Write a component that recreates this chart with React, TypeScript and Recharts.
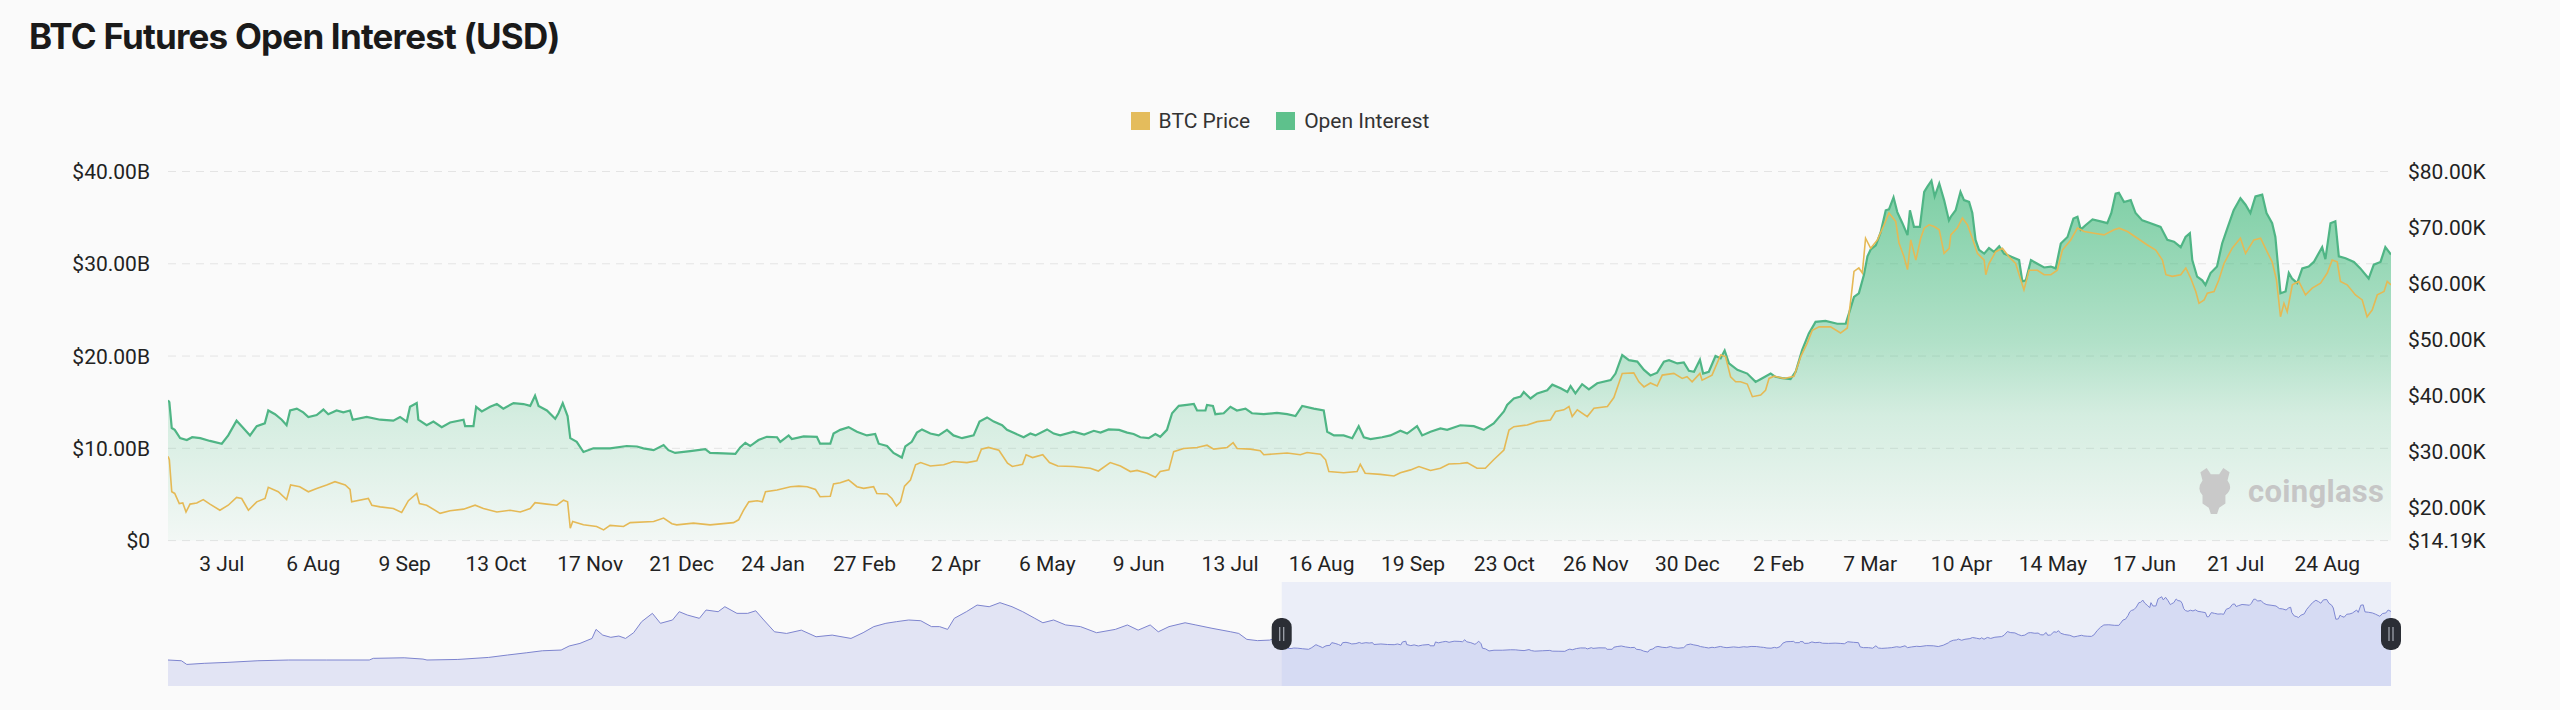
import React from 'react';
import {
  ComposedChart, AreaChart, Area, Line, XAxis, YAxis, CartesianGrid, Legend, ReferenceArea,
} from 'recharts';

// day offsets are counted from 13 Jun 2022 (left edge of the zoomed window)
const START = Date.UTC(2022, 5, 13);
const DAY = 86400000;
const MONTHS = ['Jan', 'Feb', 'Mar', 'Apr', 'May', 'Jun', 'Jul', 'Aug', 'Sep', 'Oct', 'Nov', 'Dec'];

const tickDates = [
  '2022-07-03', '2022-08-06', '2022-09-09', '2022-10-13', '2022-11-17', '2022-12-21',
  '2023-01-24', '2023-02-27', '2023-04-02', '2023-05-06', '2023-06-09', '2023-07-13',
  '2023-08-16', '2023-09-19', '2023-10-23', '2023-11-26', '2023-12-30', '2024-02-02',
  '2024-03-07', '2024-04-10', '2024-05-14', '2024-06-17', '2024-07-21', '2024-08-24',
];

const leftTicks = [0, 10, 20, 30, 40];
const rightTicks = [14.19, 20, 30, 40, 50, 60, 70, 80];

// open interest, [day, $B]
const openInterest: [number, number][] = [
  [0, 15.2], [0.5, 15.0], [1.4, 12.2], [2.5, 12.0], [4.5, 11.1], [7, 10.9], [9, 11.2], [12, 11.1], [15.6, 10.8],
  [20, 10.5], [22.4, 11.4], [25.5, 13.0], [27.4, 12.4], [30.5, 11.4], [33, 12.4], [36, 12.7], [37.3, 14.1],
  [39.8, 13.7], [42.3, 13.1], [44.1, 12.5], [45.4, 14.1], [47.9, 14.3], [50.3, 13.9], [52.2, 13.4], [55.3, 13.6],
  [57.8, 14.2], [59.6, 13.7], [62.7, 14.1], [65.2, 13.9], [67.7, 14.1], [68.7, 13.1], [73.9, 13.4], [78.9, 13.1],
  [83.8, 13.0], [86.3, 13.4], [88.8, 12.9], [90, 14.5], [92.5, 14.9], [93.1, 13.1], [96.2, 12.5], [98.7, 12.9],
  [101.8, 12.3], [104.9, 12.8], [109.9, 13.1], [110.5, 12.4], [113.6, 12.4], [114.6, 14.5], [116.7, 14.0],
  [119.8, 14.5], [122.3, 14.8], [124.7, 14.3], [128.5, 14.9], [132.2, 14.8], [134.7, 14.6], [136.5, 15.7],
  [137.8, 14.6], [140.9, 14.1], [144, 13.2], [145.2, 13.8], [146.8, 14.9], [148.6, 13.5], [149.6, 11.1],
  [152, 10.7], [154.5, 9.6], [158.2, 10.0], [164.4, 10.0], [170.6, 10.25], [174.4, 10.2], [176.8, 10.0],
  [180.6, 9.8], [184.3, 10.35], [186.1, 9.8], [188.6, 9.5], [194.2, 9.7], [199.8, 9.9], [201.6, 9.5],
  [206.6, 9.45], [211, 9.4], [212.8, 10.1], [214.7, 10.6], [216.5, 10.25], [219.6, 10.9], [222.7, 11.25],
  [226.5, 11.2], [227.7, 10.7], [230.8, 11.4], [232, 11.0], [236.4, 11.3], [241.3, 11.25], [242.5, 10.5],
  [246.3, 10.5], [247.5, 11.6], [250, 12.0], [253.1, 12.3], [256.2, 11.8], [259.9, 11.4], [263, 11.55],
  [264.3, 10.5], [267.4, 10.25], [269.8, 9.5], [272.9, 9.0], [274.2, 10.2], [276.6, 10.7], [278.5, 11.7],
  [280.4, 12.05], [283.5, 11.6], [286.6, 11.4], [289.7, 12.0], [292.1, 11.4], [295.3, 11.1], [299.6, 11.4],
  [301.8, 12.9], [304.6, 13.35], [307.1, 12.9], [310.2, 12.5], [312, 12.0], [315.1, 11.6], [318.2, 11.2],
  [320.7, 11.6], [322.6, 11.4], [326.9, 12.05], [329.4, 11.6], [331.8, 11.4], [336.8, 11.8], [340.7, 11.5],
  [344.3, 11.9], [346.8, 11.7], [349.8, 12.05], [353.7, 12.0], [356.7, 11.7], [359.1, 11.55], [361.6, 11.2],
  [364.7, 11.1], [367.2, 11.55], [369, 11.25], [371.5, 12.0], [373.4, 13.8], [375.9, 14.6], [378.9, 14.7],
  [381.5, 14.8], [382.7, 14.1], [385.8, 14.1], [386.4, 14.7], [388.6, 14.6], [389.5, 13.7], [392.6, 13.8],
  [395.1, 14.5], [397.5, 14.1], [400.7, 14.3], [403.1, 13.8], [407.5, 13.7], [412.4, 13.85], [416.2, 13.7],
  [419.3, 13.5], [421.8, 14.6], [426.1, 14.3], [429.8, 14.1], [431.1, 11.8], [433.6, 11.4], [437.2, 11.4],
  [440.4, 11.1], [442.8, 12.4], [444.7, 11.2], [447.2, 11.0], [451.5, 11.2], [454.6, 11.4], [458.3, 11.9],
  [460.8, 11.6], [464.5, 12.4], [466.4, 11.4], [469.5, 11.8], [473.2, 12.15], [475.7, 12.0], [480.6, 12.5],
  [485.6, 12.4], [489.3, 12.0], [493, 12.7], [496.8, 14.0], [498, 14.7], [500.5, 15.4], [503, 15.6],
  [504.2, 16.1], [506.7, 15.4], [509.2, 15.95], [512.9, 16.3], [514.8, 16.9], [517.9, 16.5], [520.4, 16.1],
  [521.6, 16.75], [523.4, 15.95], [525.9, 16.95], [528.4, 16.4], [531.5, 17.05], [536.5, 17.4], [538.3, 18.1],
  [540.8, 20.1], [543.3, 19.55], [546.4, 19.4], [548.9, 18.5], [551.3, 17.9], [553.8, 18.2], [556.3, 19.4],
  [558.2, 19.55], [561.3, 19.2], [563.7, 19.3], [565.6, 18.4], [567.5, 18.3], [569.7, 19.6], [570.9, 18.1],
  [573, 18.3], [575.5, 20.0], [577.4, 19.75], [578.9, 20.6], [580.5, 19.2], [583.6, 18.5], [587.3, 18.1],
  [590.4, 17.2], [592.9, 17.6], [596, 18.1], [597.8, 17.75], [600.3, 17.6], [603.4, 17.5], [605.3, 18.3],
  [607.7, 20.65], [610.2, 22.45], [612.7, 23.7], [616.4, 23.8], [620.8, 23.5], [623.9, 23.5], [625.1, 24.6],
  [627, 26.4], [628.8, 26.8], [630.7, 28.8], [632, 30.8], [633.2, 31.55], [635.1, 32.0], [636.9, 33.4],
  [638.8, 35.8], [640, 35.9], [641.7, 37.2], [643.1, 35.6], [645, 34.4], [646.9, 33.1], [647.8, 35.8],
  [649.3, 34.0], [651.5, 34.0], [653.1, 37.8], [654.3, 38.35], [655.8, 39.0], [657, 37.3], [658.7, 38.7],
  [660.5, 36.9], [662.3, 34.7], [663, 35.1], [664.8, 35.8], [666.6, 37.8], [667.9, 36.9], [669.8, 36.7],
  [671, 35.5], [672.2, 32.6], [673.5, 31.5], [675.4, 31.1], [677.2, 31.7], [679.1, 31.3], [681, 31.9],
  [682.8, 31.1], [685.3, 30.8], [688.4, 30.4], [689.6, 28.1], [690.9, 28.2], [692.8, 30.4], [695.2, 30.0],
  [697.7, 29.6], [700.2, 29.7], [702, 29.5], [703.9, 32.2], [706.4, 32.9], [708.6, 34.9], [710.1, 35.1],
  [711.3, 33.7], [713.2, 34.2], [715.7, 34.8], [718.7, 34.6], [721.2, 34.4], [722.7, 35.5], [724.3, 37.6],
  [725.5, 37.7], [727.4, 36.7], [729.9, 36.9], [731.7, 35.5], [734.2, 34.7], [737.3, 34.4], [741, 34.0],
  [743.5, 32.6], [746, 32.4], [748.5, 31.8], [750.3, 32.9], [751.9, 33.3], [752.8, 30.4], [754.6, 28.6],
  [756.5, 28.2], [757.7, 27.7], [759.6, 29.0], [762, 29.7], [763.9, 32.2], [765.8, 33.8], [768.2, 35.8],
  [770.7, 37.1], [772.6, 36.4], [774.4, 35.5], [776.3, 37.3], [778.8, 37.5], [780.4, 35.5], [782.5, 34.4],
  [783.7, 32.9], [785.6, 26.8], [787.5, 27.0], [788.7, 29.0], [789.9, 28.4], [791.8, 27.9], [793.7, 29.5],
  [796.1, 29.7], [798, 30.2], [801.1, 31.8], [802.3, 30.5], [804.2, 34.4], [806, 34.6], [807.3, 30.8],
  [809.8, 30.6], [812.9, 30.2], [815.3, 29.5], [818.4, 28.4], [820.3, 29.9], [822.8, 30.2], [824.6, 31.8],
  [826.7, 31.0],
];

// BTC price, [day, $K]
const btcPrice: [number, number][] = [
  [0, 29.2], [0.5, 28.6], [1.4, 22.9], [2.5, 22.6], [4.2, 20.8], [5.5, 20.9], [6.7, 19.3], [8.2, 20.7],
  [10.7, 20.9], [13.1, 21.5], [15.6, 20.7], [19.3, 19.6], [22.4, 20.5], [25.5, 21.9], [27.4, 21.7], [29.9, 19.6],
  [33, 21.1], [36.1, 21.7], [37.3, 23.7], [41, 22.9], [44.1, 21.5], [45.6, 24.1], [49, 23.8], [52.2, 22.9],
  [55.3, 23.5], [59, 24.1], [62.1, 24.7], [65.9, 24.1], [67.7, 23.3], [68.3, 21.1], [74.5, 21.7], [75.8, 20.5],
  [78.9, 20.2], [83.8, 19.9], [86.9, 19.2], [89.4, 21.3], [92.5, 22.6], [93.5, 20.8], [96.2, 20.5],
  [101.2, 19.05], [104.9, 19.5], [109.9, 19.8], [114.2, 20.5], [117.3, 19.9], [122.3, 19.3], [127.2, 19.6],
  [131, 19.3], [134.7, 19.9], [136.5, 20.95], [140.9, 20.7], [144.6, 20.5], [147.1, 21.4], [148.6, 21.1],
  [149.6, 16.4], [150.5, 17.6], [154.5, 17.0], [159.4, 16.7], [162, 16.1], [164.4, 16.9], [169.4, 16.7],
  [171.9, 17.4], [180.6, 17.6], [184.3, 18.2], [187.4, 17.2], [189.2, 17.0], [195.4, 17.3], [201.6, 17.0],
  [210.3, 17.4], [212.2, 17.9], [214.1, 19.65], [216, 21.1], [219.1, 21.3], [221, 21.1], [222.2, 22.9],
  [226.5, 23.2], [231.5, 23.8], [234.6, 23.9], [237.7, 23.8], [240.8, 23.3], [242.5, 22.0], [246.3, 22.1],
  [247.5, 24.3], [250, 24.5], [253.1, 25.0], [256.2, 23.8], [258.7, 23.5], [262.4, 23.8], [263.6, 22.6],
  [267.4, 22.5], [269.2, 21.7], [270.9, 20.35], [272.4, 21.1], [273.9, 23.9], [276.1, 25.0], [278, 27.7],
  [279.9, 28.1], [283.5, 27.5], [288.5, 27.7], [292.1, 28.3], [297.1, 28.1], [300.8, 28.4], [302.5, 30.5],
  [305.1, 30.8], [309, 30.3], [312.2, 28.0], [314, 27.4], [317.8, 27.8], [319.1, 29.5], [321.5, 29.0],
  [325.3, 29.5], [327.8, 28.1], [330.9, 27.5], [336.8, 27.4], [343, 27.1], [346, 26.6], [350.4, 28.1],
  [354.2, 27.5], [357.9, 26.5], [360.4, 26.7], [364.1, 26.2], [367.2, 25.5], [369, 26.5], [372.2, 26.8],
  [374, 30.05], [377.7, 30.6], [382.7, 30.8], [386.4, 31.2], [388.9, 30.5], [393.9, 30.8], [396.1, 31.65],
  [397.6, 30.6], [402.5, 30.5], [406.2, 30.2], [407.5, 29.5], [416.2, 29.8], [421.1, 29.5], [423.6, 29.9],
  [428.6, 29.6], [430.5, 28.6], [431.7, 26.5], [437.2, 26.3], [442.2, 26.5], [443.4, 27.8], [445.2, 26.2],
  [450.9, 26.0], [455.9, 25.7], [458.3, 26.3], [462.1, 26.8], [465.2, 27.4], [469.5, 26.7], [473.2, 27.1],
  [476.3, 27.85], [480.6, 27.95], [483.1, 28.1], [486.8, 27.1], [489.9, 27.1], [493, 28.6], [496.8, 30.35],
  [498.7, 33.9], [500.5, 34.5], [505.5, 34.8], [509.2, 35.4], [514.1, 35.7], [516, 37.2], [519.1, 37.5],
  [521, 38.1], [522.2, 36.3], [524.1, 37.5], [527.8, 36.3], [530.3, 37.8], [535.3, 38.1], [537.7, 39.7],
  [540.8, 44.0], [545.1, 44.1], [547, 42.5], [548.9, 41.6], [551.3, 42.3], [553.8, 41.75], [555.7, 43.7],
  [560, 44.0], [563.1, 43.1], [564.9, 43.4], [566.8, 42.5], [569.7, 44.0], [570.5, 42.8], [574.2, 43.7],
  [577.4, 47.3], [579.2, 47.0], [581.1, 43.4], [583, 42.5], [584.8, 42.5], [587.3, 42.1], [589.2, 39.85],
  [592.3, 40.15], [594.1, 41.0], [595.4, 43.1], [597.3, 43.5], [601, 43.1], [604.7, 43.5], [607.2, 47.0],
  [609.6, 49.4], [611.5, 51.7], [614, 52.3], [618.3, 52.3], [622, 51.2], [624.5, 52.1], [625.8, 57.1],
  [627, 62.2], [628.8, 62.8], [630.1, 61.9], [631.3, 68.1], [633.2, 66.3], [635.7, 67.8], [638.2, 70.5],
  [640, 72.6], [642.5, 71.1], [643.7, 67.3], [645.6, 64.8], [646.9, 62.5], [648.1, 67.8], [650, 64.2],
  [651.8, 68.1], [653.1, 69.9], [654.9, 70.5], [656.8, 70.2], [658.7, 69.6], [660.5, 65.4], [662.4, 66.3],
  [663, 68.7], [665.4, 69.9], [667.3, 71.7], [669.2, 70.5], [671, 68.1], [672.9, 65.4], [675.4, 64.2],
  [676, 61.6], [677.2, 63.6], [679.7, 65.7], [682.2, 66.3], [684.6, 64.8], [687.1, 63.6], [689, 60.7],
  [690.2, 58.9], [692.1, 62.4], [695.2, 62.4], [697.7, 61.6], [700.2, 61.6], [702.6, 62.4], [704.5, 66.0],
  [707.6, 67.8], [710.1, 69.9], [712.6, 69.3], [716.3, 69.0], [720, 68.7], [723.7, 69.6], [725.6, 69.9],
  [728.7, 69.3], [732.4, 68.1], [736.1, 66.9], [739.2, 66.0], [741.7, 64.2], [743, 61.6], [745.4, 61.3],
  [748.5, 61.6], [750.4, 62.8], [752.2, 61.0], [754.1, 58.6], [755.3, 56.5], [757.2, 57.1], [758.4, 58.3],
  [760.9, 58.6], [762.7, 60.7], [764.6, 63.6], [767.6, 66.3], [770.7, 68.1], [772.6, 65.4], [775.7, 67.8],
  [778.2, 68.1], [780.6, 65.7], [782.5, 63.9], [784.1, 60.7], [785.6, 54.1], [786.9, 56.5], [788.1, 55.0],
  [790, 59.8], [792.4, 60.4], [794.9, 58.0], [797.4, 59.2], [800.5, 60.1], [803, 61.9], [804.8, 64.2],
  [806.7, 63.9], [807.9, 60.4], [810.4, 59.8], [813.5, 58.0], [816, 57.1], [817.8, 54.1], [819.7, 55.3],
  [821.6, 58.0], [824.1, 58.6], [825.3, 60.4], [826.7, 59.8],
];

// open interest before the zoom window, only seen in the slider, [day, $B]
const oiHistory: [number, number][] = [
  [-830, 4.7], [-820, 4.3], [-816, 2.3], [-803, 2.9], [-786, 3.4], [-763, 4.3], [-740, 4.7], [-712, 4.7],
  [-680, 4.7], [-677, 5.6], [-654, 5.9], [-640, 5.2], [-637, 4.7], [-614, 5.0], [-591, 6.1], [-577, 7.4],
  [-563, 8.6], [-551, 9.7], [-537, 10.1], [-531, 12.3], [-523, 13.7], [-514, 16.4], [-511, 21.3], [-506, 18.2],
  [-500, 17.0], [-494, 17.7], [-489, 16.4], [-483, 19.5], [-477, 25.5], [-469, 30.0], [-463, 24.6], [-454, 26.4],
  [-449, 30.9], [-443, 29.1], [-434, 27.3], [-429, 31.8], [-420, 30.9], [-415, 33.6], [-406, 30.0], [-398, 30.0],
  [-392, 31.4], [-386, 26.4], [-378, 20.0], [-369, 19.1], [-358, 20.9], [-347, 17.3], [-335, 18.2], [-321, 16.4],
  [-312, 19.5], [-304, 22.8], [-295, 24.6], [-287, 25.5], [-278, 26.4], [-269, 26.0], [-261, 22.8], [-255, 22.8],
  [-249, 21.3], [-244, 27.3], [-235, 30.9], [-227, 34.5], [-218, 33.6], [-210, 35.8], [-201, 33.6], [-193, 30.9],
  [-184, 27.3], [-178, 24.9], [-170, 26.4], [-161, 23.7], [-150, 22.8], [-138, 19.5], [-124, 21.3], [-115, 23.7],
  [-107, 20.9], [-98, 23.7], [-92, 20.0], [-84, 22.8], [-72, 24.9], [-64, 23.7], [-52, 21.9], [-38, 20.0],
  [-32, 19.1], [-26, 15.9], [-18, 15.2], [-9, 15.5], [-5, 16.4],
];

const OI_COLOR = '#4fb585';
const PRICE_COLOR = '#e5b955';
const LEGEND_COLORS: Record<string, string> = { 'BTC Price': '#e4bc5c', 'Open Interest': '#5ec18c' };
const FONT = 'Roboto, "Noto Sans", sans-serif';

const oiData = openInterest.map(([d, oi]) => ({ d, oi }));
const priceData = btcPrice.map(([d, price]) => ({ d, price }));
const sliderData = [...oiHistory, ...openInterest].map(([d, oi]) => ({ d, oi }));
const tickDays = tickDates.map((s) => Math.round((Date.parse(s) - START) / DAY));
const firstDay = openInterest[0][0];
const lastDay = openInterest[openInterest.length - 1][0];

const fmtDay = (d: number) => {
  const dt = new Date(START + Math.round(d) * DAY);
  return `${dt.getUTCDate()} ${MONTHS[dt.getUTCMonth()]}`;
};
const fmtLeft = (v: number) => (v === 0 ? '$0' : `$${v.toFixed(2)}B`);
const fmtRight = (v: number) => `$${v.toFixed(2)}K`;

const tickStyle = { fontSize: 21, fill: '#222', fontFamily: FONT };

const LegendRow = ({ payload }: any) => {
  const items = [...(payload || [])].sort((a: any, b: any) => String(a.value).localeCompare(String(b.value)));
  return (
    <div style={{ height: 67.5, display: 'flex', justifyContent: 'center', gap: 26, fontFamily: FONT, fontSize: 21, color: '#333' }}>
      {items.map((p: any) => (
        <div key={p.value} style={{ display: 'flex', alignItems: 'center', height: 34 }}>
          <span style={{ display: 'inline-block', width: 19, height: 18, background: LEGEND_COLORS[p.value] || p.color, marginRight: 9 }} />
          {p.value}
        </div>
      ))}
    </div>
  );
};

const Handle = ({ cx, cy }: { cx: number; cy: number }) => (
  <g>
    <rect x={cx - 10} y={cy - 16} width={20} height={32} rx={9} fill="#2b2e35" />
    <line x1={cx - 2} x2={cx - 2} y1={cy - 7} y2={cy + 7} stroke="#a7acb5" strokeWidth={1.2} />
    <line x1={cx + 2} x2={cx + 2} y1={cy - 7} y2={cy + 7} stroke="#a7acb5" strokeWidth={1.2} />
  </g>
);

const SliderWindow = (props: any) => {
  const { x, y, width, height } = props;
  const cy = y + height / 2;
  return (
    <g>
      <rect x={x} y={y} width={width} height={height} fill="rgb(140,160,240)" fillOpacity={0.13} />
      <Handle cx={x} cy={cy} />
      <Handle cx={x + width} cy={cy} />
    </g>
  );
};

const Watermark = () => (
  <div style={{ position: 'absolute', left: 2194, top: 466, display: 'flex', alignItems: 'center', gap: 12, pointerEvents: 'none' }}>
    <svg width={42} height={50} viewBox="0 0 40 48">
      <path d="M6 6 L12 2 L16 8 L24 8 L28 2 L34 6 L32 14 Q38 22 30 28 L30 36 L24 40 L22 46 L16 46 L14 40 L8 36 L8 28 Q2 22 8 14 Z" fill="#c9c9c9" />
    </svg>
    <span style={{ fontFamily: FONT, fontWeight: 700, fontSize: 31, color: '#c6c6c6', letterSpacing: 0.3 }}>coinglass</span>
  </div>
);

export default function App() {
  return (
    <div style={{ position: 'absolute', left: 0, top: 0, width: 2560, height: 710, background: '#fafafa', overflow: 'hidden' }}>
      <div style={{ position: 'absolute', left: 29, top: 15, fontFamily: 'Inter, "Noto Sans", sans-serif', fontWeight: 700, fontSize: 35, lineHeight: '42px', letterSpacing: -0.8, color: '#1a1a1a' }}>
        BTC Futures Open Interest (USD)
      </div>

      <div style={{ position: 'absolute', left: 0, top: 0 }}>
        <ComposedChart width={2560} height={590} margin={{ top: 104, right: 0, bottom: 0, left: 0 }}>
          <defs>
            <linearGradient id="oiFill" x1="0" y1="0" x2="0" y2="1">
              <stop offset="0%" stopColor="#3cb878" stopOpacity={0.66} />
              <stop offset="45%" stopColor="#3cb878" stopOpacity={0.38} />
              <stop offset="65%" stopColor="#3cb878" stopOpacity={0.2} />
              <stop offset="100%" stopColor="#3cb878" stopOpacity={0.04} />
            </linearGradient>
          </defs>
          <CartesianGrid yAxisId="left" vertical={false} stroke="#e4e4e4" strokeDasharray="8 6" />
          <XAxis
            dataKey="d" type="number" domain={[firstDay, lastDay]} ticks={tickDays} interval={0}
            tickFormatter={fmtDay} tick={tickStyle} tickLine={false} axisLine={false}
            tickSize={0} tickMargin={15} height={49.4} allowDataOverflow
          />
          <YAxis
            yAxisId="left" orientation="left" domain={[0, 40]} ticks={leftTicks} interval={0}
            tickFormatter={fmtLeft} tick={tickStyle} tickLine={false} axisLine={false}
            tickSize={0} tickMargin={18} width={168}
          />
          <YAxis
            yAxisId="right" orientation="right" domain={[14.19, 80]} ticks={rightTicks} interval={0}
            tickFormatter={fmtRight} tick={{ ...tickStyle, textAnchor: 'start' }} tickLine={false} axisLine={false}
            tickSize={0} tickMargin={17} width={169} allowDataOverflow
          />
          <Legend verticalAlign="top" align="center" content={LegendRow} />
          <Area
            yAxisId="left" data={oiData} dataKey="oi" name="Open Interest" type="linear"
            stroke={OI_COLOR} strokeWidth={2.2} fill="url(#oiFill)" fillOpacity={1}
            dot={false} activeDot={false} isAnimationActive={false}
          />
          <Line
            yAxisId="right" data={priceData} dataKey="price" name="BTC Price" type="linear"
            stroke={PRICE_COLOR} strokeWidth={1.6} dot={false} activeDot={false} isAnimationActive={false}
          />
        </ComposedChart>
      </div>

      <div style={{ position: 'absolute', left: 0, top: 582 }}>
        <AreaChart width={2560} height={104} data={sliderData} margin={{ top: 0, right: 169, bottom: 0, left: 168 }}>
          <XAxis dataKey="d" type="number" domain={['dataMin', 'dataMax']} hide />
          <YAxis domain={[-9.4, 47]} hide width={0} />
          <Area
            dataKey="oi" type="linear" baseValue="dataMin" stroke="#7d84cf" strokeWidth={1}
            fill="#c9cdee" fillOpacity={0.5} dot={false} activeDot={false} isAnimationActive={false}
          />
          <ReferenceArea x1={firstDay} x2={lastDay} shape={SliderWindow} ifOverflow="visible" />
        </AreaChart>
      </div>

      <Watermark />
    </div>
  );
}
